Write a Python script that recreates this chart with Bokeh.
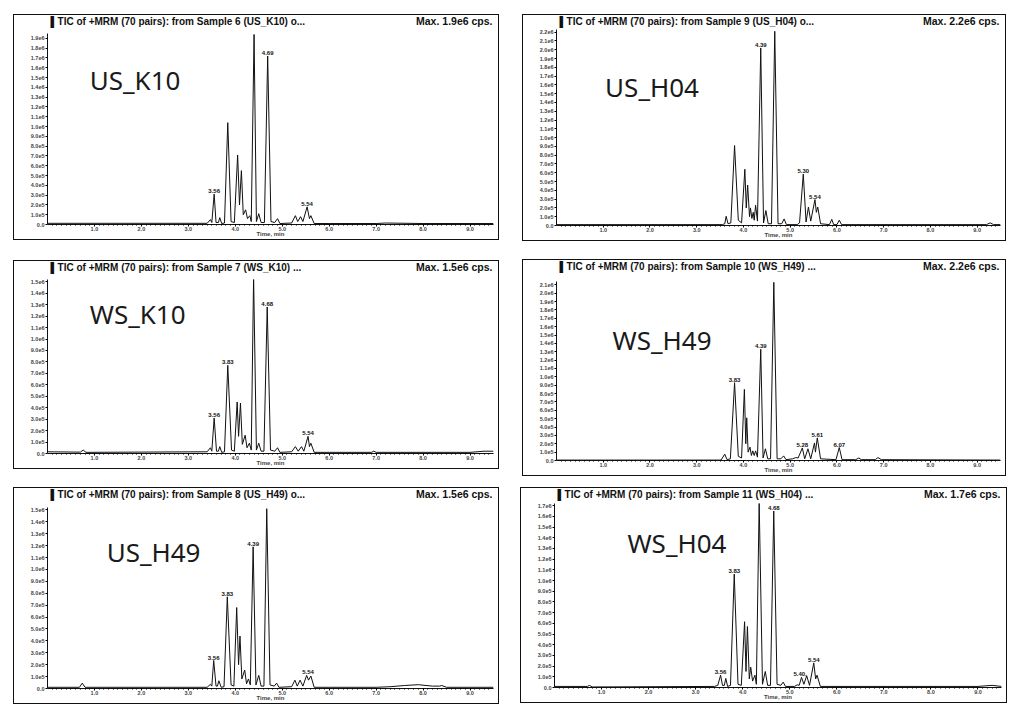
from bokeh.plotting import figure
from bokeh.layouts import row, column
from bokeh.models import FixedTicker, Label, ColumnDataSource, Range1d, PrintfTickFormatter
from bokeh.core.properties import value
from bokeh.embed import file_html
from bokeh.resources import INLINE

# ---------------- data (intensities in units of 1e5 cps, time in min) ----------------
sample_names = ["US_K10", "US_H04", "WS_K10", "WS_H49", "US_H49", "WS_H04"]
sample_numbers = [6, 9, 7, 10, 8, 11]
title_tails = ["o...", "o...", "...", "...", "o...", "..."]
max_cps_labels = ["1.9e6", "2.2e6", "1.5e6", "2.2e6", "1.5e6", "1.7e6"]
y_top_ticks = [19, 22, 15, 21, 15, 17]
x_tick_values = [1, 2, 3, 4, 5, 6, 7, 8, 9]

us_k10_time = [0.0, 3.40, 3.47, 3.50, 3.55, 3.59, 3.64, 3.67, 3.71, 3.77, 3.84, 3.91, 3.98, 4.05, 4.09,
               4.13, 4.17, 4.22, 4.26, 4.31, 4.34, 4.40, 4.45, 4.50, 4.55, 4.62, 4.69, 4.76, 4.84, 4.90,
               4.95, 5.20, 5.28, 5.33, 5.39, 5.44, 5.53, 5.58, 5.61, 5.68, 6.0, 7.0, 7.2, 8.0, 9.5]
us_k10_int = [0.12, 0.12, 0.5, 0.2, 3.1, 0.2, 0.2, 0.7, 0.1, 0.15, 10.4, 0.3, 0.2, 7.1, 2.0,
              5.5, 1.0, 1.5, 0.6, 0.9, 0.3, 19.4, 0.3, 1.1, 0.2, 0.2, 17.2, 0.3, 0.2, 0.6,
              0.1, 0.15, 0.9, 0.3, 0.8, 0.3, 1.8, 0.6, 0.9, 0.1, 0.1, 0.1, 0.15, 0.1, 0.1]
us_k10_ann_t = [3.55, 4.69, 5.53]
us_k10_ann_y = [3.1, 17.2, 1.8]
us_k10_ann_txt = ["3.56", "4.69", "5.54"]

us_h04_time = [0.0, 3.55, 3.60, 3.63, 3.67, 3.73, 3.81, 3.89, 3.96, 4.03, 4.06, 4.09, 4.13, 4.15, 4.18,
               4.21, 4.23, 4.26, 4.30, 4.37, 4.43, 4.48, 4.53, 4.60, 4.67, 4.74, 4.82, 4.87, 4.92, 5.15,
               5.20, 5.28, 5.34, 5.39, 5.44, 5.53, 5.56, 5.59, 5.65, 5.84, 5.89, 5.93, 6.00, 6.05, 6.10,
               9.20, 9.28, 9.35, 9.5]
us_h04_int = [0.1, 0.1, 0.2, 1.05, 0.2, 0.3, 9.1, 0.6, 0.3, 6.4, 2.0, 4.6, 1.0, 2.0, 0.8,
              1.5, 0.6, 2.3, 0.5, 20.2, 0.3, 1.7, 0.2, 0.2, 22.1, 0.2, 0.2, 0.75, 0.1, 0.1,
              0.3, 5.85, 0.4, 2.1, 0.5, 2.95, 1.5, 2.1, 0.2, 0.1, 0.7, 0.1, 0.1, 0.6, 0.1,
              0.1, 0.3, 0.1, 0.1]
us_h04_ann_t = [4.37, 5.28, 5.53]
us_h04_ann_y = [20.2, 5.85, 2.95]
us_h04_ann_txt = ["4.39", "5.30", "5.54"]

ws_k10_time = [0.0, 0.70, 0.76, 0.82, 3.40, 3.47, 3.50, 3.55, 3.60, 3.64, 3.67, 3.71, 3.77, 3.84, 3.92,
               3.98, 4.04, 4.07, 4.11, 4.15, 4.21, 4.25, 4.30, 4.34, 4.39, 4.45, 4.50, 4.55, 4.61, 4.68,
               4.75, 4.84, 4.90, 4.95, 5.20, 5.28, 5.34, 5.41, 5.46, 5.55, 5.58, 5.61, 5.68, 6.0, 6.9,
               6.95, 7.0, 9.0, 9.3, 9.5]
ws_k10_int = [0.15, 0.12, 0.3, 0.1, 0.15, 0.5, 0.2, 3.1, 0.2, 0.2, 0.6, 0.1, 0.15, 7.7, 0.3,
              0.2, 4.5, 1.5, 4.4, 0.8, 1.6, 0.5, 0.9, 0.3, 15.4, 0.3, 0.9, 0.2, 0.2, 12.8,
              0.3, 0.2, 0.5, 0.1, 0.15, 0.6, 0.2, 0.6, 0.2, 1.5, 0.6, 0.9, 0.1, 0.1, 0.1,
              0.2, 0.1, 0.1, 0.2, 0.2]
ws_k10_ann_t = [3.55, 3.84, 4.68, 5.55]
ws_k10_ann_y = [3.1, 7.7, 12.8, 1.5]
ws_k10_ann_txt = ["3.56", "3.83", "4.68", "5.54"]

ws_h49_time = [0.0, 3.52, 3.60, 3.65, 3.72, 3.81, 3.89, 3.96, 4.02, 4.05, 4.07, 4.10, 4.14, 4.17, 4.20,
               4.23, 4.26, 4.30, 4.37, 4.42, 4.47, 4.52, 4.58, 4.65, 4.72, 4.80, 4.86, 4.91, 5.05, 5.12,
               5.17, 5.26, 5.31, 5.38, 5.44, 5.52, 5.54, 5.58, 5.65, 5.98, 6.05, 6.11, 6.40, 6.47, 6.52,
               6.82, 6.88, 6.95, 9.5]
ws_h49_int = [0.05, 0.05, 0.75, 0.1, 0.2, 9.3, 0.5, 0.3, 8.5, 2.0, 5.1, 1.0, 1.6, 0.6, 1.15,
              0.6, 1.15, 0.4, 13.3, 0.3, 1.4, 0.2, 0.2, 21.3, 0.2, 0.2, 0.55, 0.1, 0.2, 0.35,
              0.3, 1.5, 0.2, 1.4, 0.2, 2.1, 1.0, 2.7, 0.2, 0.1, 1.55, 0.1, 0.1, 0.3, 0.1,
              0.1, 0.35, 0.1, 0.05]
ws_h49_ann_t = [3.81, 4.37, 5.26, 5.58, 6.05]
ws_h49_ann_y = [9.3, 13.3, 1.5, 2.7, 1.55]
ws_h49_ann_txt = ["3.83", "4.39", "5.28", "5.61", "6.07"]

us_h49_time = [0.0, 0.68, 0.74, 0.80, 3.40, 3.47, 3.50, 3.54, 3.59, 3.62, 3.65, 3.70, 3.76, 3.83, 3.91,
               3.97, 4.03, 4.07, 4.10, 4.14, 4.20, 4.24, 4.28, 4.32, 4.38, 4.44, 4.50, 4.55, 4.61, 4.67,
               4.74, 4.83, 4.88, 4.93, 5.20, 5.27, 5.32, 5.38, 5.44, 5.52, 5.56, 5.61, 5.68, 6.0, 7.0,
               7.3, 7.6, 7.9, 8.2, 8.35, 8.4, 8.5, 9.5]
us_h49_int = [0.1, 0.1, 0.45, 0.1, 0.1, 0.35, 0.2, 2.35, 0.2, 0.2, 0.65, 0.1, 0.15, 7.7, 0.3,
              0.2, 6.8, 2.0, 4.4, 0.8, 1.55, 0.4, 0.8, 0.3, 11.9, 0.3, 1.1, 0.2, 0.2, 15.1,
              0.3, 0.2, 0.45, 0.1, 0.15, 0.7, 0.2, 0.7, 0.2, 1.1, 0.7, 1.05, 0.1, 0.1, 0.1,
              0.15, 0.25, 0.32, 0.2, 0.2, 0.25, 0.1, 0.1]
us_h49_ann_t = [3.54, 3.83, 4.38, 5.55]
us_h49_ann_y = [2.35, 7.7, 11.9, 1.1]
us_h49_ann_txt = ["3.56", "3.83", "4.39", "5.54"]

ws_h04_time = [0.0, 0.70, 0.74, 0.80, 3.40, 3.47, 3.53, 3.57, 3.61, 3.64, 3.68, 3.74, 3.82, 3.90, 3.97,
               4.04, 4.07, 4.10, 4.14, 4.17, 4.21, 4.26, 4.29, 4.35, 4.42, 4.48, 4.53, 4.59, 4.66, 4.73,
               4.81, 4.86, 4.91, 5.10, 5.16, 5.20, 5.25, 5.30, 5.36, 5.42, 5.51, 5.55, 5.58, 5.65, 9.0,
               9.3, 9.5]
ws_h04_int = [0.1, 0.1, 0.2, 0.05, 0.1, 0.2, 1.15, 0.2, 0.2, 0.85, 0.1, 0.2, 10.6, 0.3, 0.2,
              6.15, 1.5, 5.7, 0.8, 1.9, 0.6, 1.15, 0.3, 17.3, 0.3, 1.5, 0.2, 0.2, 16.5, 0.3,
              0.2, 0.5, 0.1, 0.1, 0.25, 0.2, 0.95, 0.3, 1.1, 0.2, 2.3, 0.8, 1.15, 0.1, 0.1,
              0.2, 0.1]
ws_h04_ann_t = [3.53, 3.82, 4.66, 5.22, 5.51]
ws_h04_ann_y = [1.15, 10.6, 16.5, 0.95, 2.3]
ws_h04_ann_txt = ["3.56", "3.83", "4.68", "5.40,", "5.54"]

traces = [(us_k10_time, us_k10_int), (us_h04_time, us_h04_int), (ws_k10_time, ws_k10_int),
          (ws_h49_time, ws_h49_int), (us_h49_time, us_h49_int), (ws_h04_time, ws_h04_int)]
annotations = [(us_k10_ann_t, us_k10_ann_y, us_k10_ann_txt), (us_h04_ann_t, us_h04_ann_y, us_h04_ann_txt),
               (ws_k10_ann_t, ws_k10_ann_y, ws_k10_ann_txt), (ws_h49_ann_t, ws_h49_ann_y, ws_h49_ann_txt),
               (us_h49_ann_t, us_h49_ann_y, us_h49_ann_txt), (ws_h04_ann_t, ws_h04_ann_y, ws_h04_ann_txt)]

# ---------------- layout / style (outer box sizes include the 1px border) ----------------
box_w = [486, 484, 486, 484, 486, 487]
box_h = [226, 227, 209, 217, 217, 216]
y_ends = [19.5, 22.3, 15.2, 21.4, 15.2, 17.2]
TITLE_H = 13
top_b = [5, 1, 5, 8, 6, 2]
bot_b = [12, 13, 10, 13, 13, 12]
margins = [(14, 0, 0, 13), (14, 0, 0, 23), (19, 0, 0, 13), (18, 0, 0, 23), (11, 0, 0, 13), (11, 0, 0, 21)]
name_pos = [(0.90, 14.8), (1.04, 15.8), (0.90, 12.15), (1.20, 14.4), (1.26, 11.45), (1.55, 13.5)]

FONT = "Liberation Sans"
INK = "#111111"


def ylab(v):
    if v == 0:
        return "0.0"
    if v < 10:
        return f"{v}.0e5"
    return f"{v / 10:.1f}e6"


def make_title(i):
    t = figure(width=box_w[i] - 2, height=TITLE_H, x_range=Range1d(0, 1), y_range=Range1d(0, 1),
               x_axis_type=None, y_axis_type=None, output_backend="svg", toolbar_location=None,
               min_border=0, outline_line_color=None)
    t.xgrid.visible = False
    t.ygrid.visible = False
    title = f"\u258CTIC of +MRM (70 pairs): from Sample {sample_numbers[i]} ({sample_names[i]}) {title_tails[i]}"
    t.add_layout(Label(x=0, y=0.55, text=title, text_font=FONT, text_font_size="10px",
                       text_font_style="bold", text_align="left", text_baseline="middle",
                       x_offset=3, text_color=INK))
    t.add_layout(Label(x=1, y=0.55, text=f"Max. {max_cps_labels[i]} cps.", text_font=FONT,
                       text_font_size="10.5px", text_font_style="bold", text_align="right",
                       text_baseline="middle", x_offset=-1, text_color=INK))
    return t


def make_panel(i):
    t, y = traces[i]
    at, ay, atxt = annotations[i]
    p = figure(width=box_w[i] - 2, height=box_h[i] - 2 - TITLE_H,
               x_range=Range1d(0, 9.5), y_range=Range1d(0, y_ends[i]),
               output_backend="svg", toolbar_location=None,
               min_border_left=33, min_border_right=5,
               min_border_top=top_b[i], min_border_bottom=bot_b[i])
    p.xgrid.visible = False
    p.ygrid.visible = False
    p.outline_line_color = None

    p.line(t, y, line_color=INK, line_width=1)

    src = ColumnDataSource(dict(x=at, y=ay, txt=atxt))
    p.text(x="x", y="y", text="txt", source=src, text_font=value(FONT), text_font_style="bold",
           text_font_size="6px", text_align="center", text_baseline="bottom", y_offset=-1,
           text_color=INK)

    xa = p.xaxis[0]
    xa.ticker = FixedTicker(ticks=x_tick_values, minor_ticks=[k / 10 for k in range(1, 95)])
    xa.formatter = PrintfTickFormatter(format="%.1f")
    xa.major_label_text_font = FONT
    xa.major_label_text_font_size = "5.5px"
    xa.major_label_text_font_style = "bold"
    xa.major_label_standoff = 0
    xa.major_tick_out = 2
    xa.major_tick_in = 0
    xa.minor_tick_out = 1
    xa.minor_tick_in = 0
    xa.axis_line_color = INK
    xa.axis_label = "Time, min"
    xa.axis_label_text_font = FONT
    xa.axis_label_text_font_size = "6px"
    xa.axis_label_text_font_style = "bold"
    xa.axis_label_standoff = -3

    ya = p.yaxis[0]
    top = y_top_ticks[i]
    ya.ticker = FixedTicker(ticks=list(range(0, top + 1)), minor_ticks=[])
    ya.major_label_overrides = {k: ylab(k) for k in range(0, top + 1)}
    ya.major_label_text_font = FONT
    ya.major_label_text_font_size = "5.5px"
    ya.major_label_text_font_style = "bold"
    ya.major_label_standoff = 1
    ya.major_tick_out = 2
    ya.major_tick_in = 0
    ya.minor_tick_out = 0
    ya.axis_line_color = INK

    nx, ny = name_pos[i]
    p.add_layout(Label(x=nx, y=ny, text=sample_names[i], text_font="Noto Sans", text_font_size="26px",
                       text_align="left", text_baseline="alphabetic", text_color="#1a1a1a"))

    return column(make_title(i), p, spacing=0, margin=margins[i],
                  styles={"border": "1px solid #111"})


panels = [make_panel(i) for i in range(6)]
layout = column(row(panels[0], panels[1]), row(panels[2], panels[3]), row(panels[4], panels[5]))

open("out.html", "w").write(file_html(layout, INLINE))
